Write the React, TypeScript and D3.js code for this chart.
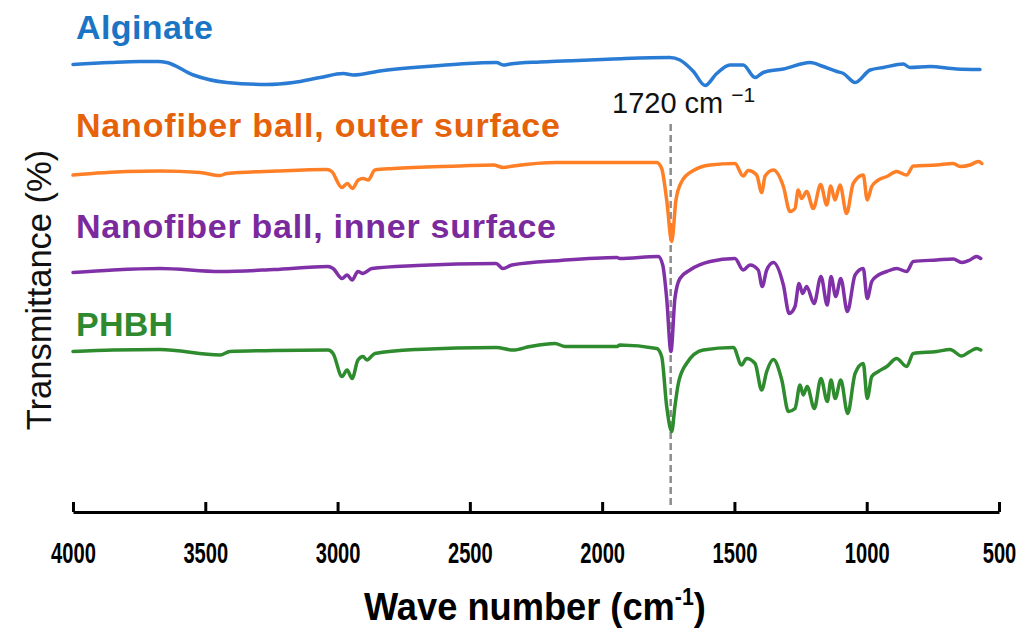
import React, { useRef, useEffect } from "react";
import * as d3 from "d3";

// FTIR spectra: [wave number (cm-1), transmittance (a.u., curves stacked)]
const alginate: [number, number][] = [
  [4000, 89.5], [3860, 89.9], [3747, 90.1], [3678, 90.1], [3646, 89.9], [3545, 87.4],
  [3419, 85.9], [3268, 85.5], [3167, 85.9], [3066, 86.9], [2978, 87.7], [2941, 87.4],
  [2840, 88.2], [2663, 89.1], [2537, 89.6], [2399, 89.9], [2374, 89.4], [2348, 89.6],
  [2235, 90.0], [2147, 90.2], [1958, 90.6], [1744, 90.9], [1706, 90.4], [1655, 88.1],
  [1611, 85.3], [1567, 87.7], [1517, 89.4], [1467, 89.4], [1422, 86.9], [1391, 87.9],
  [1315, 88.6], [1214, 89.9], [1164, 89.1], [1113, 88.1], [1088, 87.7], [1044, 85.9],
  [987, 88.4], [937, 88.9], [862, 89.6], [837, 88.9], [761, 89.1], [660, 88.6], [572, 88.5]
];

const outerSurface: [number, number][] = [
  [4000, 67.4], [3797, 68.1], [3671, 68.2], [3520, 67.9], [3444, 67.3], [3419, 67.7],
  [3230, 68.2], [3041, 68.5], [3022, 68.1], [2984, 64.9], [2963, 65.7], [2944, 64.7],
  [2922, 66.4], [2903, 66.7], [2884, 66.4], [2859, 68.4], [2789, 68.7], [2537, 69.2],
  [2411, 69.4], [2374, 68.9], [2336, 69.2], [2172, 69.9], [2084, 69.9], [1933, 69.9],
  [1794, 69.9], [1775, 68.7], [1756, 62.4], [1737, 54.1], [1721, 62.4], [1699, 66.1],
  [1655, 68.3], [1592, 69.4], [1498, 69.7], [1467, 67.2], [1448, 68.3], [1416, 67.4],
  [1397, 63.9], [1384, 67.2], [1353, 68.4], [1315, 65.1], [1290, 60.1], [1271, 60.7],
  [1259, 64.4], [1246, 62.7], [1227, 64.1], [1202, 60.7], [1174, 65.5], [1151, 61.4],
  [1136, 65.2], [1120, 62.4], [1101, 65.4], [1076, 59.7], [1051, 65.7], [1013, 67.4],
  [998, 62.4], [981, 65.1], [956, 66.4], [924, 67.1], [887, 68.1], [849, 67.4],
  [824, 69.2], [735, 69.4], [673, 69.7], [647, 69.1], [610, 69.4], [578, 70.1], [565, 69.7]
];

const innerSurface: [number, number][] = [
  [4000, 47.9], [3849, 48.4], [3671, 48.7], [3444, 48.1], [3240, 48.5], [3036, 49.1],
  [3017, 48.7], [2983, 46.7], [2964, 47.4], [2945, 46.4], [2923, 48.1], [2904, 47.7],
  [2870, 48.7], [2700, 49.3], [2401, 49.7], [2375, 48.7], [2341, 49.4], [2159, 50.3],
  [1944, 50.9], [1933, 50.7], [1788, 51.1], [1771, 49.4], [1756, 42.7], [1740, 32.1],
  [1725, 42.7], [1706, 46.7], [1668, 48.4], [1592, 50.1], [1498, 50.7], [1467, 48.4],
  [1441, 49.4], [1410, 48.4], [1395, 45.1], [1378, 48.4], [1353, 49.9], [1315, 45.4],
  [1293, 39.7], [1271, 41.1], [1256, 45.7], [1242, 43.7], [1227, 45.1], [1199, 41.7],
  [1173, 47.1], [1149, 41.4], [1135, 47.1], [1117, 43.1], [1098, 46.7], [1073, 40.1],
  [1044, 47.4], [1013, 48.7], [998, 42.7], [981, 46.1], [956, 47.4], [924, 48.1],
  [887, 48.7], [849, 48.1], [824, 50.1], [735, 50.4], [673, 50.6], [641, 49.9],
  [610, 50.4], [585, 51.1], [569, 50.7]
];

const phbh: [number, number][] = [
  [4000, 32.1], [3849, 32.4], [3671, 32.5], [3444, 31.4], [3407, 32.1], [3240, 32.3],
  [3036, 32.4], [3017, 31.7], [2983, 27.1], [2964, 28.4], [2945, 26.7], [2923, 30.4],
  [2904, 31.1], [2889, 30.4], [2859, 31.7], [2700, 32.5], [2401, 32.9], [2337, 32.4],
  [2273, 33.1], [2178, 33.7], [2140, 33.1], [1944, 33.1], [1933, 33.4], [1794, 32.7],
  [1775, 31.1], [1756, 21.1], [1737, 16.1], [1725, 21.1], [1712, 25.7], [1681, 29.7],
  [1618, 32.4], [1504, 32.9], [1473, 29.4], [1454, 30.7], [1422, 29.7], [1397, 24.4],
  [1378, 28.1], [1353, 30.5], [1321, 26.4], [1296, 20.1], [1271, 20.7], [1252, 25.4],
  [1240, 23.4], [1225, 25.1], [1198, 20.7], [1173, 26.7], [1149, 22.1], [1135, 26.4],
  [1119, 22.7], [1098, 26.4], [1072, 19.7], [1044, 27.7], [1013, 29.7], [998, 22.7],
  [981, 27.1], [956, 28.1], [924, 29.1], [887, 30.7], [849, 29.1], [824, 31.7],
  [735, 32.1], [685, 32.5], [641, 31.2], [610, 32.1], [585, 32.7], [569, 32.4]
];

const seriesNames = [
  "Alginate",
  "Nanofiber ball, outer surface",
  "Nanofiber ball, inner surface",
  "PHBH"
];
const seriesData = [alginate, outerSurface, innerSurface, phbh];
const xTicks = [4000, 3500, 3000, 2500, 2000, 1500, 1000, 500];

// the dashed C=O marker as it sits on the figure's axis, and the y span it covers
const markerWave = 1741;
const markerSpan = [1.4, 78.4];

const lineColors = ["#2a7bd3", "#ff7f27", "#8031a7", "#2e8b2e"];
const labelColors = ["#1a75c4", "#e5620b", "#7a2a9c", "#2f8a2f"];

const width = 1030;
const height = 633;
const font = "'Liberation Sans', Arial, sans-serif";

export default function App() {
  const ref = useRef<SVGSVGElement>(null);

  useEffect(() => {
    const svg = d3.select(ref.current);
    svg.selectAll("*").remove();

    const x = d3.scaleLinear().domain([4000, 500]).range([73, 999]);
    const y = d3.scaleLinear().domain([0, 100]).range([512, 12]);

    const line = d3
      .line<[number, number]>()
      .x(d => x(d[0]))
      .y(d => y(d[1]))
      .curve(d3.curveMonotoneX);

    // dashed marker first so the spectra sit on top of it
    svg
      .append("line")
      .attr("x1", x(markerWave))
      .attr("x2", x(markerWave))
      .attr("y1", y(markerSpan[0]))
      .attr("y2", y(markerSpan[1]))
      .attr("stroke", "#8c8c8c")
      .attr("stroke-width", 2.5)
      .attr("stroke-dasharray", "7,4");

    seriesData.forEach((d, i) => {
      svg
        .append("path")
        .attr("d", line(d))
        .attr("fill", "none")
        .attr("stroke", lineColors[i])
        .attr("stroke-width", 3.5)
        .attr("stroke-linejoin", "round")
        .attr("stroke-linecap", "round");
    });

    // series names above each curve
    const labelY = [39, 137, 238, 336];
    const labelLen = [137, 484, 480, 97];
    seriesNames.forEach((name, i) => {
      svg
        .append("text")
        .text(name)
        .attr("x", 76)
        .attr("y", labelY[i])
        .attr("fill", labelColors[i])
        .attr("font-family", font)
        .attr("font-weight", "bold")
        .attr("font-size", 34)
        .attr("textLength", labelLen[i])
        .attr("lengthAdjust", "spacing");
    });

    // 1720 cm-1 annotation
    const note = svg
      .append("text")
      .attr("x", 612)
      .attr("y", 113)
      .attr("font-family", font)
      .attr("font-size", 29)
      .attr("fill", "#111");
    note.append("tspan").text("1720 cm");
    note
      .append("tspan")
      .attr("dx", 8)
      .attr("dy", -11)
      .attr("font-size", 21)
      .text("\u22121");

    // x axis
    const axis = d3
      .axisBottom(x)
      .tickValues(xTicks)
      .tickSizeInner(-10)
      .tickSizeOuter(0)
      .tickPadding(30)
      .tickFormat(d3.format("d"));

    const gx = svg.append("g").attr("transform", "translate(0,512)").call(axis);
    gx.select(".domain").attr("stroke", "#000").attr("stroke-width", 3);
    gx.selectAll(".tick line").attr("stroke", "#000").attr("stroke-width", 3);
    gx.selectAll<SVGTextElement, number>(".tick text")
      .attr("fill", "#000")
      .attr("font-family", font)
      .attr("font-weight", "bold")
      .attr("font-size", 30)
      .attr("textLength", d => String(d).length * 11.2)
      .attr("lengthAdjust", "spacingAndGlyphs");

    // axis title, squeezed to the narrow look of the original
    const xtG = svg.append("g");
    const xt = xtG
      .append("text")
      .attr("font-family", font)
      .attr("font-weight", "bold")
      .attr("font-size", 39)
      .attr("fill", "#000");
    xt.append("tspan").text("Wave number (cm");
    xt.append("tspan").attr("dy", -15).attr("font-size", 23).text("-1");
    xt.append("tspan").attr("dy", 15).text(")");
    const w = (xt.node() as SVGTextElement).getBBox().width || 1;
    xtG.attr("transform", `translate(364,620) scale(${342 / w},1)`);

    // y axis title
    svg
      .append("text")
      .text("Transmittance (%)")
      .attr("transform", "translate(51,290) rotate(-90)")
      .attr("text-anchor", "middle")
      .attr("font-family", font)
      .attr("font-size", 34.5)
      .attr("fill", "#111");
  }, []);

  return (
    <svg
      ref={ref}
      width={width}
      height={height}
      style={{ position: "absolute", left: 0, top: 0, background: "#fff" }}
    />
  );
}
